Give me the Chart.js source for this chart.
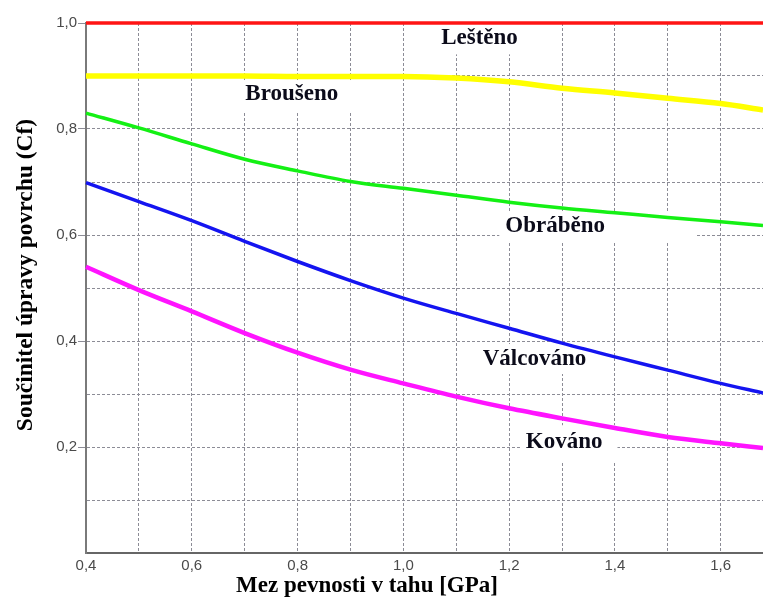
<!DOCTYPE html>
<html>
<head>
<meta charset="utf-8">
<script src="https://cdn.jsdelivr.net/npm/chart.js@4.4.1/dist/chart.umd.min.js"></script>
<style>
  html, body { margin: 0; padding: 0; background: #ffffff; }
  #wrap { width: 763px; height: 599px; position: relative; }
</style>
</head>
<body>
<div id="wrap"><canvas id="c" width="763" height="599"></canvas></div>
<script>
// ---- data ----
const strength = [0.4, 0.5, 0.6, 0.7, 0.8, 0.9, 1.0, 1.1, 1.2, 1.3, 1.4, 1.5, 1.6, 1.68]; // GPa
const lesteno    = [1.0, 1.0, 1.0, 1.0, 1.0, 1.0, 1.0, 1.0, 1.0, 1.0, 1.0, 1.0, 1.0, 1.0];
const brouseno   = [0.900, 0.900, 0.900, 0.900, 0.899, 0.899, 0.899, 0.896, 0.889, 0.877, 0.868, 0.858, 0.848, 0.836];
const obrabeno   = [0.830, 0.802, 0.772, 0.743, 0.721, 0.701, 0.688, 0.675, 0.662, 0.651, 0.642, 0.633, 0.625, 0.618];
const valcovano  = [0.699, 0.663, 0.627, 0.588, 0.550, 0.514, 0.481, 0.452, 0.424, 0.396, 0.370, 0.345, 0.320, 0.302];
const kovano     = [0.540, 0.496, 0.456, 0.415, 0.378, 0.346, 0.320, 0.295, 0.273, 0.254, 0.236, 0.219, 0.207, 0.198];

const seriesNames = ["Leštěno", "Broušeno", "Obráběno", "Válcováno", "Kováno"];
const xTitle = "Mez pevnosti v tahu [GPa]";
const yTitle = "Součinitel úpravy povrchu (Cf)";

// label anchor points in data coordinates (strength, Cf)
const labelX = [1.144, 0.789, 1.287, 1.248, 1.304];
const labelY = [0.971, 0.866, 0.617, 0.366, 0.209];

function pts(ys) { return strength.map((x, i) => ({ x: x, y: ys[i] })); }
function fmt(v) { return v.toFixed(1).replace('.', ','); }

const labelFont = 'bold 23px "Liberation Serif", "Times New Roman", serif';
const boxPad = [
  { l: 9, r: 10, t: 10, b: 7 },
  { l: 6, r: 15, t: 5, b: 8 },
  { l: 6, r: 91, t: 6, b: 8 },
  { l: 6, r: 8, t: 6, b: 6 },
  { l: 5, r: 15, t: 8, b: 10 }
];

const annotations = {
  id: 'annotations',
  beforeDatasetsDraw(chart) {
    const { ctx, scales: { x, y } } = chart;
    ctx.save();
    ctx.font = labelFont;
    seriesNames.forEach((name, i) => {
      const cx = x.getPixelForValue(labelX[i]);
      const cy = y.getPixelForValue(labelY[i]);
      const w = ctx.measureText(name).width;
      const p = boxPad[i];
      ctx.fillStyle = '#ffffff';
      ctx.fillRect(cx - w / 2 - p.l, cy - 9 - p.t, w + p.l + p.r, 18 + p.t + p.b);
    });
    ctx.restore();
  },
  afterDatasetsDraw(chart) {
    const { ctx, scales: { x, y } } = chart;
    ctx.save();
    ctx.font = labelFont;
    ctx.fillStyle = '#0b0b1a';
    ctx.textAlign = 'center';
    ctx.textBaseline = 'middle';
    seriesNames.forEach((name, i) => {
      ctx.fillText(name, x.getPixelForValue(labelX[i]), y.getPixelForValue(labelY[i]));
    });
    // axis titles
    ctx.font = 'bold 23px "Liberation Serif", "Times New Roman", serif';
    ctx.fillStyle = '#000000';
    ctx.fillText(xTitle, 367, 586);
    ctx.translate(26, 275);
    ctx.rotate(-Math.PI / 2);
    ctx.font = 'bold 23.5px "Liberation Serif", "Times New Roman", serif';
    ctx.fillText(yTitle, 0, 0);
    ctx.restore();
  }
};

const lineStyle = (color, width) => ({
  borderColor: color, backgroundColor: color, borderWidth: width,
  pointRadius: 0, cubicInterpolationMode: 'monotone', fill: false, clip: false
});

new Chart(document.getElementById('c'), {
  type: 'line',
  data: {
    datasets: [
      Object.assign({ label: seriesNames[0], data: pts(lesteno) }, lineStyle('#ff1414', 3.5)),
      Object.assign({ label: seriesNames[1], data: pts(brouseno) }, lineStyle('#ffff00', 5.5)),
      Object.assign({ label: seriesNames[2], data: pts(obrabeno) }, lineStyle('#14f014', 3.5)),
      Object.assign({ label: seriesNames[3], data: pts(valcovano) }, lineStyle('#1414f0', 3.5)),
      Object.assign({ label: seriesNames[4], data: pts(kovano) }, lineStyle('#ff14ff', 4.5))
    ]
  },
  options: {
    responsive: false,
    animation: false,
    devicePixelRatio: 1,
    layout: { padding: { top: 23, left: 0, right: 0, bottom: 0 } },
    plugins: { legend: { display: false }, tooltip: { enabled: false }, title: { display: false } },
    scales: {
      x: {
        type: 'linear', min: 0.4, max: 1.68,
        afterFit(s) { s.height = 46; },
        ticks: {
          stepSize: 0.1, includeBounds: false, autoSkip: false, maxRotation: 0,
          padding: 4, color: '#4a4a4a',
          font: { family: '"Liberation Sans", Arial, sans-serif', size: 15 },
          callback(v) { const k = Math.round(v * 10); return k % 2 === 0 ? fmt(v) : ''; }
        },
        grid: { color: '#8c8c96', lineWidth: 1, drawTicks: false },
        border: { display: true, color: '#666666', width: 2, dash: [3, 2] }
      },
      y: {
        type: 'linear', min: 0, max: 1.0,
        afterFit(s) { s.width = 86; },
        ticks: {
          stepSize: 0.1, autoSkip: false, padding: 1, color: '#4a4a4a',
          font: { family: '"Liberation Sans", Arial, sans-serif', size: 15 },
          callback(v) { const k = Math.round(v * 10); return (k % 2 === 0 && k > 0) ? fmt(v) : ''; }
        },
        grid: {
          color: '#8c8c96', lineWidth: 1, drawTicks: true, tickLength: 8,
          tickColor: (c) => { const k = Math.round((c.tick ? c.tick.value : 0) * 10); return (k % 2 === 0 && k > 0) ? '#8c8c96' : 'rgba(0,0,0,0)'; }
        },
        border: { display: true, color: '#7a7a7a', width: 2, dash: [3, 2] }
      }
    }
  },
  plugins: [annotations]
});
</script>
</body>
</html>
